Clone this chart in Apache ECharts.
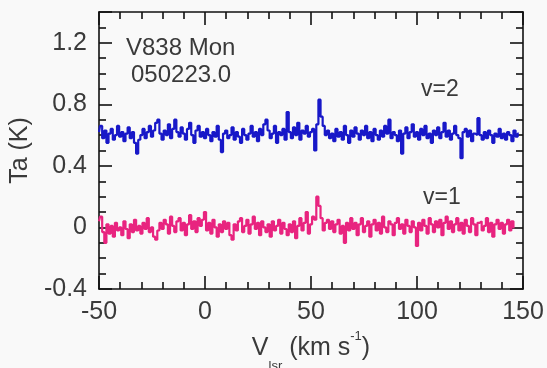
<!DOCTYPE html>
<html>
<head>
<meta charset="utf-8">
<script src="https://cdn.jsdelivr.net/npm/echarts@6/dist/echarts.min.js"></script>
<style>
  html, body { margin: 0; padding: 0; background: #f9f9f9; }
  #chart { width: 547px; height: 368px; }
</style>
</head>
<body>
<div id="chart"></div>
<script>
// SiO maser spectra of V838 Mon, 2005-02-23: antenna temperature per 1 km/s channel
const vStart = -50;   // first channel velocity (km/s)
const dv = 1;         // channel width (km/s)

// v=2 line (offset by +0.6 K for display)
const taV2 = [
  0.62,0.66,0.58,0.63,0.55,0.61,0.64,0.57,0.60,0.66,
  0.59,0.62,0.56,0.61,0.65,0.58,0.62,0.55,0.48,0.57,
  0.60,0.64,0.58,0.62,0.66,0.59,0.63,0.68,0.70,0.61,
  0.57,0.63,0.60,0.67,0.58,0.64,0.70,0.62,0.59,0.65,
  0.61,0.57,0.64,0.68,0.60,0.55,0.63,0.66,0.59,0.62,
  0.58,0.64,0.60,0.56,0.62,0.59,0.66,0.57,0.49,0.61,
  0.63,0.58,0.60,0.65,0.57,0.62,0.59,0.55,0.64,0.60,
  0.57,0.61,0.66,0.59,0.62,0.56,0.64,0.60,0.67,0.70,
  0.63,0.58,0.61,0.66,0.55,0.62,0.60,0.64,0.57,0.75,
  0.62,0.58,0.65,0.60,0.68,0.57,0.63,0.61,0.66,0.59,
  0.62,0.64,0.50,0.67,0.83,0.72,0.66,0.60,0.63,0.58,
  0.61,0.56,0.64,0.59,0.62,0.57,0.66,0.60,0.55,0.63,
  0.59,0.65,0.61,0.57,0.63,0.60,0.66,0.58,0.62,0.56,
  0.64,0.60,0.57,0.63,0.59,0.66,0.61,0.70,0.58,0.62,
  0.60,0.56,0.63,0.48,0.61,0.65,0.58,0.62,0.67,0.59,
  0.62,0.57,0.64,0.60,0.66,0.58,0.61,0.55,0.63,0.60,
  0.65,0.58,0.62,0.68,0.59,0.63,0.57,0.61,0.66,0.60,
  0.58,0.45,0.62,0.64,0.59,0.63,0.56,0.61,0.60,0.71,
  0.60,0.57,0.62,0.58,0.63,0.60,0.55,0.61,0.59,0.64,
  0.58,0.61,0.57,0.62,0.60,0.56,0.63,0.59,0.61
];

// v=1 line
const taV1 = [
  0.04,0.07,-0.03,-0.10,0.02,-0.04,0.01,-0.06,0.03,-0.02,
  0.00,-0.05,0.04,-0.01,-0.07,0.02,-0.03,0.05,-0.02,0.01,
  -0.04,0.03,-0.01,0.06,-0.03,0.00,-0.06,-0.08,-0.02,0.03,
  -0.01,0.05,0.02,-0.04,0.07,0.01,-0.03,0.04,0.06,-0.02,
  0.03,-0.05,0.02,0.08,-0.01,0.04,-0.03,0.06,0.01,0.05,
  0.10,-0.02,0.03,-0.04,0.05,0.00,-0.06,0.02,-0.03,0.04,
  -0.01,0.03,-0.05,-0.08,0.02,-0.02,0.04,0.06,-0.03,0.01,
  0.05,-0.04,0.02,0.07,-0.01,0.03,-0.05,0.04,0.00,-0.03,
  0.02,-0.06,0.04,-0.02,0.01,0.05,-0.04,0.03,-0.01,-0.05,
  0.02,-0.03,0.04,-0.07,0.01,0.06,-0.02,0.03,0.10,-0.04,
  0.02,0.07,0.05,0.20,0.14,0.06,-0.02,0.03,0.05,-0.01,
  0.04,-0.03,0.02,0.05,-0.04,0.01,-0.10,0.03,-0.02,0.06,
  -0.01,0.03,-0.05,0.02,0.06,-0.03,0.01,0.04,-0.06,0.02,
  0.05,-0.02,0.03,-0.04,0.07,0.00,-0.03,0.04,0.02,-0.05,
  0.03,0.06,-0.01,0.02,-0.04,0.05,0.01,-0.03,0.04,0.00,
  -0.12,0.03,-0.02,0.05,0.01,-0.04,0.06,0.02,-0.03,0.04,
  0.00,0.05,-0.05,0.03,0.07,-0.01,0.04,-0.03,0.02,0.06,
  -0.02,0.03,-0.04,0.05,0.01,-0.03,0.06,0.02,-0.05,0.03,
  0.04,-0.02,0.01,0.06,-0.03,0.03,-0.06,0.02,0.05,-0.01,
  0.03,-0.04,0.02,0.05,-0.02,0.04,0.00
];

const xTicks = { min: -50, max: 150, interval: 50 };
const yTicks = { min: -0.4, max: 1.4, interval: 0.4 };

const FONT = 'Liberation Sans, Arial, Helvetica, sans-serif';
const TEXT = '#3a3a3a';
const toPairs = arr => arr.map((t, i) => [vStart + i * dv, t]);

const axisLineStyle = { show: true, onZero: false, lineStyle: { color: '#111', width: 1.6 } };

function xAxisDef(pos, labels) {
  return {
    type: 'value', position: pos,
    min: xTicks.min, max: xTicks.max, interval: xTicks.interval,
    axisLine: axisLineStyle,
    axisTick: { show: true, inside: true, length: 13, lineStyle: { color: '#111', width: 1.6 } },
    minorTick: { show: true, splitNumber: 5, length: 7, lineStyle: { color: '#111', width: 1.6 } },
    splitLine: { show: false },
    axisLabel: { show: labels, fontFamily: FONT, fontSize: 25, color: TEXT, margin: 11 },
    name: labels ? '{v|V}{sub|lsr}{v| (km s}{sup|-1}{v|)}' : '',
    nameLocation: 'middle', nameGap: 44,
    nameTextStyle: {
      fontFamily: FONT, fontSize: 25, color: TEXT,
      rich: {
        v: { fontFamily: FONT, fontSize: 25, color: TEXT },
        sub: { fontFamily: FONT, fontSize: 13, color: TEXT, verticalAlign: 'bottom', padding: [0, 0, -12, 0] },
        sup: { fontFamily: FONT, fontSize: 13, color: TEXT, verticalAlign: 'top', padding: [-6, 0, 0, 0] }
      }
    }
  };
}

function yAxisDef(pos, labels) {
  return {
    type: 'value', position: pos,
    min: yTicks.min, max: yTicks.max, interval: yTicks.interval,
    axisLine: axisLineStyle,
    axisTick: { show: true, inside: true, length: 13, lineStyle: { color: '#111', width: 1.6 } },
    minorTick: { show: true, splitNumber: 4, length: 7, lineStyle: { color: '#111', width: 1.6 } },
    splitLine: { show: false },
    axisLabel: {
      show: labels, fontFamily: FONT, fontSize: 25, color: TEXT, margin: 12,
      showMaxLabel: false,
      formatter: v => (Math.abs(v) < 1e-9 ? '0' : String(+v.toFixed(1)))
    },
    name: labels ? 'Ta (K)' : '',
    nameLocation: 'middle', nameGap: 66, nameRotate: 90,
    nameTextStyle: { fontFamily: FONT, fontSize: 25, color: TEXT }
  };
}

const chart = echarts.init(document.getElementById('chart'), null, { renderer: 'canvas' });
chart.setOption({
  backgroundColor: '#f9f9f9',
  animation: false,
  grid: { left: 99, right: 24, top: 12, bottom: 79, containLabel: false, outerBoundsMode: 'none' },
  xAxis: [xAxisDef('bottom', true), xAxisDef('top', false)],
  yAxis: [yAxisDef('left', true), yAxisDef('right', false)],
  series: [
    {
      name: 'v=2', type: 'line', step: 'middle', showSymbol: false,
      xAxisIndex: 0, yAxisIndex: 0,
      lineStyle: { color: '#1818c8', width: 2.2 },
      data: toPairs(taV2)
    },
    {
      name: 'v=1', type: 'line', step: 'middle', showSymbol: false,
      xAxisIndex: 0, yAxisIndex: 0,
      lineStyle: { color: '#e8247f', width: 2.2 },
      data: toPairs(taV1)
    }
  ],
  graphic: [
    { type: 'text', left: 126, top: 36, style: { text: 'V838 Mon', font: '24px ' + FONT, fill: TEXT } },
    { type: 'text', left: 131, top: 63, style: { text: '050223.0', font: '24px ' + FONT, fill: TEXT } },
    { type: 'text', left: 421, top: 78, style: { text: 'v=2', font: '23px ' + FONT, fill: TEXT } },
    { type: 'text', left: 423, top: 186, style: { text: 'v=1', font: '23px ' + FONT, fill: TEXT } }
  ]
});
</script>
</body>
</html>
